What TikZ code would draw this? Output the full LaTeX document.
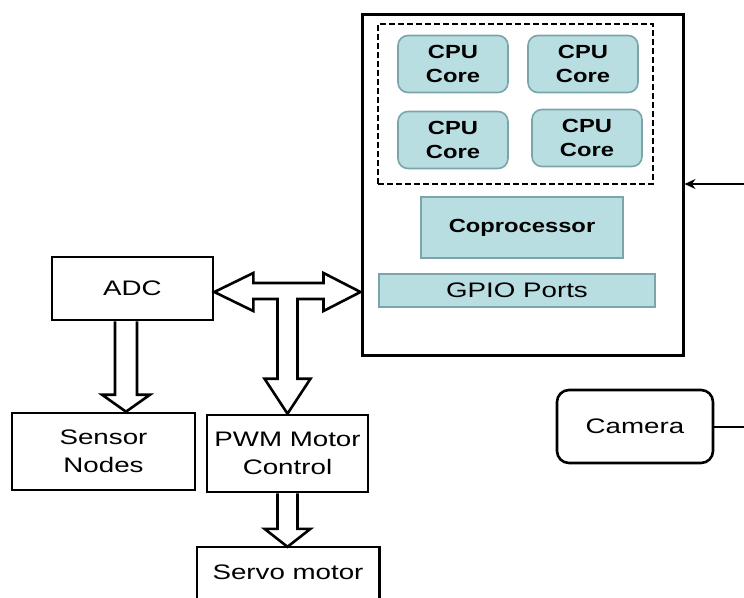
\documentclass[tikz,border=0pt]{standalone}
\usepackage{fontspec}
\setmainfont{Liberation Sans}
\newfontfamily\wfont[FakeStretch=1.32]{Liberation Sans}
\newfontfamily\bfont[FakeStretch=1.25]{Liberation Sans}
\usetikzlibrary{calc,arrows.meta}
\definecolor{tealfill}{RGB}{184,222,226}
\definecolor{tealline}{RGB}{122,165,170}
\tikzset{
  box/.style={draw=black, line width=2.6pt, fill=white, inner sep=0pt, align=center,
    font=\wfont\fontsize{21}{28}\selectfont},
  core/.style={draw=tealline, line width=1.6pt, fill=tealfill, rounded corners=10pt,
    minimum width=110pt, minimum height=57pt, inner sep=0pt, align=center,
    font=\bfont\bfseries\fontsize{19}{24}\selectfont},
  tealbox/.style={draw=tealline, line width=1.6pt, fill=tealfill, inner sep=0pt, align=center},
  fat/.style={draw=black, line width=2.6pt, fill=white, line join=miter},
}
\begin{document}
\begin{tikzpicture}[x=1pt,y=-1pt]
\clip (0,0) rectangle (744,597);
\fill[white] (0,0) rectangle (744,597);
% main processor box
\node[draw=black, line width=3pt, minimum width=321pt, minimum height=341pt, inner sep=0pt] (main) at (522.5,184.5) {};
\node[draw=black, dashed, dash pattern=on 6pt off 3pt, line width=2pt, minimum width=275pt, minimum height=160pt, inner sep=0pt] (cores) at (515.5,104) {};
\node[core] (c1) at (453,64) {CPU\\Core};
\node[core] (c2) at (583,64) {CPU\\Core};
\node[core] (c3) at (453,140) {CPU\\Core};
\node[core] (c4) at (587,138) {CPU\\Core};
\node[tealbox, minimum width=202pt, minimum height=61pt, font=\bfont\bfseries\fontsize{19}{24}\selectfont] (cop) at (522,227.5) {Coprocessor};
\node[tealbox, minimum width=276pt, minimum height=33pt, font=\wfont\fontsize{21}{24}\selectfont] (gpio) at (517,290.5) {GPIO Ports};
% peripherals
\node[box, minimum width=161pt, minimum height=63pt] (adc) at (132.5,288.5) {ADC};
\node[box, minimum width=183pt, minimum height=77pt] (sensor) at (103.5,451.5) {Sensor\\Nodes};
\node[box, minimum width=161pt, minimum height=77pt] (pwm) at (287.5,453.5) {PWM Motor\\Control};
\node[box, rounded corners=12pt, minimum width=156pt, minimum height=73pt] (cam) at (635,426.5) {Camera};
\node[inner sep=0pt, minimum width=182pt, minimum height=50pt, font=\wfont\fontsize{21}{28}\selectfont] (servo) at (288,572) {Servo motor};
\draw[line width=2.6pt] ($(servo.south west)+(0,30)$) -- (servo.north west) -- (servo.north east) -- ($(servo.south east)+(0,30)$);
% thin connectors at the right
\coordinate (rin) at (744,184);
\coordinate (camout) at (cam.east -| rin);
\draw[line width=2pt, -{Stealth[length=11pt,width=10pt]}] (rin) -- (rin -| main.east);
\draw[line width=2pt] (cam.east) -- (camout);
% fat T-shaped bus arrow
\coordinate (bus) at (0,292);
\coordinate (L) at (adc.east |- bus);
\coordinate (R) at (main.west |- bus);
\coordinate (P) at (pwm.north);
\draw[fat] (L) -- ($(L)+(39,-19)$) -- ($(L)+(39,-9)$) -- ($(R)+(-37,-9)$) -- ($(R)+(-37,-19)$) -- (R)
  -- ($(R)+(-37,19)$) -- ($(R)+(-37,7)$) -- ($(P|-R)+(10,7)$) -- ($(P)+(10,-35)$) -- ($(P)+(23,-35)$)
  -- (P) -- ($(P)+(-23,-35)$) -- ($(P)+(-10,-35)$) -- ($(P|-R)+(-10,7)$) -- ($(L)+(39,7)$)
  -- ($(L)+(39,19)$) -- cycle;
% ADC to sensor nodes
\coordinate (sx) at (126,0);
\coordinate (sa) at (sx |- adc.south);
\coordinate (sb) at (sx |- sensor.north);
\draw[fat] ($(sa)+(-11,0)$) -- ($(sb)+(-11,-17)$) -- ($(sb)+(-24,-17)$) -- (sb) -- ($(sb)+(24,-17)$) -- ($(sb)+(11,-17)$) -- ($(sa)+(11,0)$);
% PWM to servo
\coordinate (pa) at (pwm.south);
\coordinate (pb) at (pwm.south |- servo.north);
\draw[fat] ($(pa)+(-10,0)$) -- ($(pb)+(-10,-18)$) -- ($(pb)+(-23,-18)$) -- (pb) -- ($(pb)+(23,-18)$) -- ($(pb)+(10,-18)$) -- ($(pa)+(10,0)$);
\end{tikzpicture}
\end{document}
